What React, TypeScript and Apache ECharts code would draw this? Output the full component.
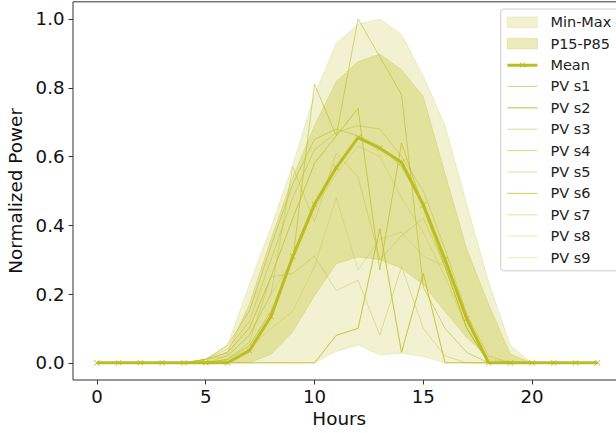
import React, { useEffect, useRef } from 'react';
import * as echarts from 'echarts';

const hours = [0, 1, 2, 3, 4, 5, 6, 7, 8, 9, 10, 11, 12, 13, 14, 15, 16, 17, 18, 19, 20, 21, 22, 23];

const minV = [0, 0, 0, 0, 0, 0, 0, 0, 0, 0, 0, 0.033, 0.052, 0.023, 0.028, 0.018, 0, 0, 0, 0, 0, 0, 0, 0];
const maxV = [0, 0, 0, 0, 0, 0.01, 0.052, 0.227, 0.395, 0.576, 0.78, 0.929, 0.985, 1.0, 0.955, 0.834, 0.69, 0.46, 0.236, 0.05, 0, 0, 0, 0];
const p15 = [0, 0, 0, 0, 0, 0, 0, 0, 0.025, 0.09, 0.195, 0.288, 0.308, 0.3, 0.275, 0.227, 0.149, 0.073, 0.014, 0, 0, 0, 0, 0];
const p85 = [0, 0, 0, 0, 0, 0.005, 0.033, 0.17, 0.36, 0.54, 0.69, 0.818, 0.876, 0.898, 0.852, 0.774, 0.55, 0.33, 0.17, 0.025, 0, 0, 0, 0];
const meanV = [0, 0, 0, 0, 0, 0, 0, 0.035, 0.135, 0.309, 0.461, 0.568, 0.655, 0.624, 0.583, 0.459, 0.3, 0.128, 0, 0, 0, 0, 0, 0];

const s1 = [0, 0, 0, 0, 0, 0, 0.01, 0.05, 0.15, 0.3, 0.81, 0.66, 1.0, 0.89, 0.78, 0.22, 0.1, 0.03, 0, 0, 0, 0, 0, 0];
const s2 = [0, 0, 0, 0, 0, 0, 0, 0, 0, 0, 0, 0.08, 0.1, 0.39, 0.03, 0.26, 0, 0, 0, 0, 0, 0, 0, 0];
const s3 = [0, 0, 0, 0, 0, 0.01, 0.04, 0.12, 0.3, 0.48, 0.62, 0.67, 0.69, 0.68, 0.6, 0.5, 0.33, 0.14, 0.02, 0, 0, 0, 0, 0];
const s4 = [0, 0, 0, 0, 0, 0.01, 0.05, 0.15, 0.34, 0.52, 0.65, 0.68, 0.66, 0.63, 0.57, 0.46, 0.3, 0.12, 0.01, 0, 0, 0, 0, 0];
const s5 = [0, 0, 0, 0, 0, 0, 0.02, 0.08, 0.2, 0.57, 0.41, 0.61, 0.54, 0.3, 0.37, 0.42, 0.28, 0.1, 0, 0, 0, 0, 0, 0];
const s6 = [0, 0, 0, 0, 0, 0.01, 0.03, 0.1, 0.25, 0.42, 0.58, 0.66, 0.74, 0.27, 0.64, 0.45, 0.28, 0.1, 0, 0, 0, 0, 0, 0];
const s7 = [0, 0, 0, 0, 0, 0, 0.01, 0.06, 0.25, 0.26, 0.31, 0.21, 0.24, 0.08, 0.28, 0.1, 0.02, 0, 0, 0, 0, 0, 0, 0];
const s8 = [0, 0, 0, 0, 0, 0, 0.01, 0.04, 0.1, 0.15, 0.28, 0.48, 0.27, 0.36, 0.38, 0.31, 0.28, 0.1, 0, 0, 0, 0, 0, 0];
const s9 = [0, 0, 0, 0, 0, 0.01, 0.02, 0.08, 0.2, 0.3, 0.45, 0.55, 0.63, 0.6, 0.48, 0.38, 0.25, 0.1, 0, 0, 0, 0, 0, 0];

const pvNames = ['PV s1', 'PV s2', 'PV s3', 'PV s4', 'PV s5', 'PV s6', 'PV s7', 'PV s8', 'PV s9'];
const pvData = [s1, s2, s3, s4, s5, s6, s7, s8, s9];
const pvAlpha = [0.6, 0.85, 0.45, 0.55, 0.4, 0.7, 0.4, 0.3, 0.3];

const xTicks = [0, 5, 10, 15, 20];
const yTicks = [0, 0.2, 0.4, 0.6, 0.8, 1.0];

const FONT = 'DejaVu Sans';
const OL = '188,189,34';
const col = (a: number) => `rgba(${OL},${a})`;

const X_SYMBOL = 'path://M0,0.8L0.8,0L5,4.2L9.2,0L10,0.8L5.8,5L10,9.2L9.2,10L5,5.8L0.8,10L0,9.2L4.2,5Z';
const PATCH_ICON = 'path://M0,0H30V10.5H0Z';
const LINE_ICON = 'path://M0,0H30V1.1H0Z';
const MEAN_ICON = 'path://M0,5.5H30V8.5H0Z M12.2,4.6L12.8,4L15,6.2L17.2,4L17.8,4.6L15.6,6.8L17.8,9L17.2,9.6L15,7.4L12.8,9.6L12.2,9L14.4,6.8Z';

function bandSeries(name: string, lo: number[], hi: number[], fillA: number, edgeA: number, z: number) {
  return {
    name, type: 'custom', z, silent: true, clip: true,
    data: hours.map((h, i) => [h, lo[i], hi[i]]),
    encode: { x: 0, y: [1, 2] },
    renderItem: (params: any, api: any) => {
      if (params.dataIndex !== 0) return null;
      const top = hours.map((h, i) => api.coord([h, hi[i]]));
      const bot = hours.map((h, i) => api.coord([h, lo[i]])).reverse();
      return {
        type: 'polygon',
        shape: { points: top.concat(bot) },
        style: { fill: col(fillA), stroke: col(edgeA), lineWidth: 0.8 },
      };
    },
  };
}

export default function App() {
  const ref = useRef<HTMLDivElement>(null);
  useEffect(() => {
    const chart = echarts.init(ref.current as HTMLDivElement, null, { renderer: 'svg' });
    const pairs = (arr: number[]) => hours.map((h, i) => [h, arr[i]]);

    const series: any[] = [
      bandSeries('Min-Max', minV, maxV, 0.2, 0.25, 1),
      bandSeries('P15-P85', p15, p85, 0.3, 0.32, 2),
      {
        name: 'Mean', type: 'line', data: pairs(meanV), symbol: X_SYMBOL, symbolSize: 6, showSymbol: true,
        lineStyle: { color: col(1), width: 3 }, itemStyle: { color: col(1) }, z: 3,
      },
      ...pvNames.map((n, k) => ({
        name: n, type: 'line', data: pairs(pvData[k]), symbol: 'none', showSymbol: false,
        lineStyle: { color: col(pvAlpha[k]), width: 1 }, itemStyle: { color: col(pvAlpha[k]) }, z: 4,
      })),
    ];

    const legendData: any[] = [
      { name: 'Min-Max', icon: PATCH_ICON, itemStyle: { color: col(0.2), borderColor: col(0.25), borderWidth: 0.8 } },
      { name: 'P15-P85', icon: PATCH_ICON, itemStyle: { color: col(0.3), borderColor: col(0.32), borderWidth: 0.8 } },
      { name: 'Mean', icon: MEAN_ICON, itemStyle: { color: col(1) } },
      ...pvNames.map((n, k) => ({ name: n, icon: LINE_ICON, itemStyle: { color: col(pvAlpha[k]) } })),
    ];

    chart.setOption({
      animation: false,
      textStyle: { fontFamily: FONT },
      grid: {
        left: 73, right: -7.5, top: 1.8, bottom: 53,
        show: true, borderColor: '#333', borderWidth: 1, backgroundColor: 'transparent',
        containLabel: false, outerBoundsMode: 'none',
      },
      xAxis: {
        type: 'value', min: -1.1, max: 24.2,
        splitLine: { show: false }, axisLine: { show: false, onZero: false },
        axisTick: { show: true, customValues: xTicks, length: 4.5, lineStyle: { color: '#333' } },
        axisLabel: { customValues: xTicks, fontSize: 18.2, color: '#111', margin: 7, fontFamily: FONT },
        name: 'Hours', nameLocation: 'middle', nameGap: 27,
        nameTextStyle: { fontSize: 18.4, color: '#111', fontFamily: FONT, padding: [0, 18, 0, 0] },
      },
      yAxis: {
        type: 'value', min: -0.05, max: 1.05,
        splitLine: { show: false }, axisLine: { show: false, onZero: false },
        axisTick: { show: true, customValues: yTicks, length: 4.5, lineStyle: { color: '#333' } },
        axisLabel: {
          customValues: yTicks, fontSize: 18.2, color: '#111', margin: 8.5, fontFamily: FONT,
          formatter: (v: number) => v.toFixed(1),
        },
        name: 'Normalized Power', nameLocation: 'middle', nameGap: 43,
        nameTextStyle: { fontSize: 18.4, color: '#111', fontFamily: FONT },
      },
      legend: {
        orient: 'vertical', left: 500.7, top: 9,
        padding: [5.7, 20, 5.7, 6.3],
        itemWidth: 30, itemHeight: 14, itemGap: 6.4,
        backgroundColor: 'rgba(255,255,255,0.8)', borderColor: '#cccccc', borderWidth: 1, borderRadius: 3,
        textStyle: { fontFamily: FONT, fontSize: 14.5, color: '#222', lineHeight: 14, padding: [0, 0, 0, 8] },
        selectedMode: false,
        data: legendData,
      },
      series,
    });
    return () => chart.dispose();
  }, []);
  return <div ref={ref} style={{ width: 616, height: 433, position: 'absolute', left: 0, top: 0 }} />;
}
